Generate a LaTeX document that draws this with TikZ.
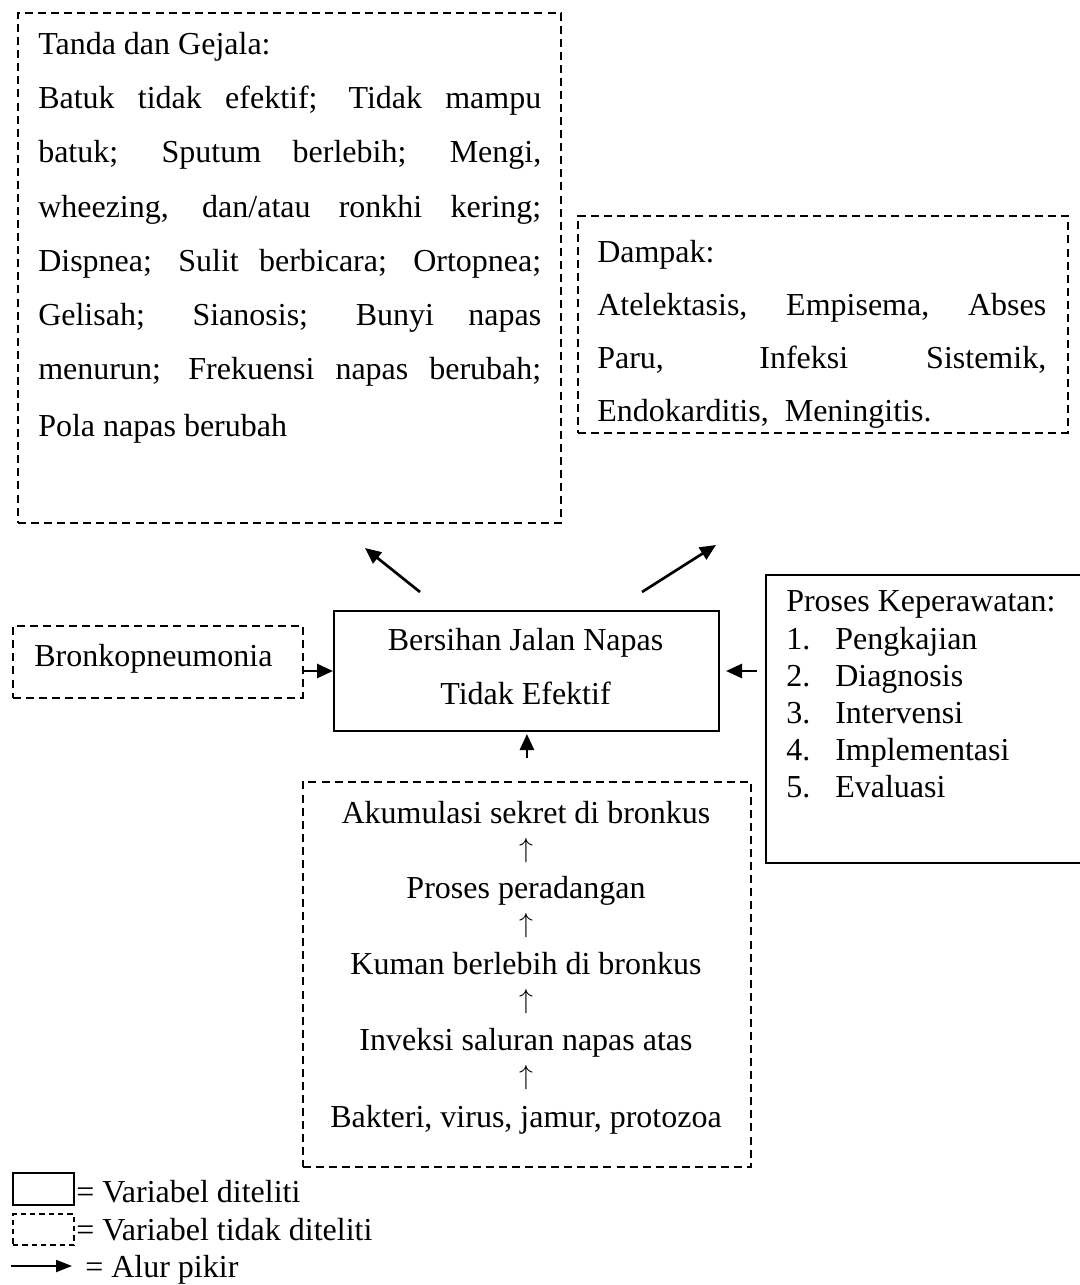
\documentclass[tikz,border=0pt]{standalone}
\usepackage{fontspec}
\setmainfont{Liberation Serif}
\usetikzlibrary{arrows.meta,calc}
\newlength\pxl \setlength\pxl{0.75pt}
\newcommand\jtanda[1]{\makebox[503\pxl][s]{#1}}
\newcommand\jdampak[1]{\makebox[449\pxl][s]{#1}}
\begin{document}
\begin{tikzpicture}[x=0.75pt,y=-0.75pt,
  txt/.style={inner sep=0pt, font=\fontsize{24pt}{28pt}\selectfont},
  uparr/.style={inner sep=0pt, font=\fontsize{21pt}{24pt}\selectfont},
  solidbox/.style={draw, line width=1.5pt, inner sep=0pt},
  dashbox/.style={draw, line width=1.4pt, dash pattern=on 6pt off 3.8pt, inner sep=0pt},
  arr/.style={line width=2pt, -{Triangle[length=12pt,width=10.5pt]}}]
\path[use as bounding box] (0,0) rectangle (1080,1285);

% Tanda dan Gejala
\node[dashbox, anchor=north west, minimum width=543\pxl, minimum height=510\pxl] (tanda) at (17,12) {};
\node[txt, anchor=base west] (t1) at (38,54) {Tanda dan Gejala:};
\node[txt, anchor=base west] (t2) at (38,108) {\jtanda{Batuk tidak efektif; Tidak mampu}};
\node[txt, anchor=base west] (t3) at (38,162) {\jtanda{batuk; Sputum berlebih; Mengi,}};
\node[txt, anchor=base west] (t4) at (38,217) {\jtanda{wheezing, dan/atau ronkhi kering;}};
\node[txt, anchor=base west] (t5) at (38,271) {\jtanda{Dispnea; Sulit berbicara; Ortopnea;}};
\node[txt, anchor=base west] (t6) at (38,325) {\jtanda{Gelisah; Sianosis; Bunyi napas}};
\node[txt, anchor=base west] (t7) at (38,379) {\jtanda{menurun; Frekuensi napas berubah;}};
\node[txt, anchor=base west] (t8) at (38,436) {Pola napas berubah};

% Dampak
\node[dashbox, anchor=north west, minimum width=490\pxl, minimum height=217\pxl] (dampak) at (577,215) {};
\node[txt, anchor=base west] (d1) at (597,262) {Dampak:};
\node[txt, anchor=base west] (d2) at (597,315) {\jdampak{Atelektasis, Empisema, Abses}};
\node[txt, anchor=base west] (d3) at (597,368) {\jdampak{Paru, Infeksi Sistemik,}};
\node[txt, anchor=base west] (d4) at (597,421) {Endokarditis,\ \ Meningitis.};

% Main box
\node[solidbox, anchor=north west, minimum width=385\pxl, minimum height=120\pxl] (main) at (333,610) {};
\node[txt, anchor=base] (m1) at (525.5,650) {Bersihan Jalan Napas};
\node[txt, anchor=base] (m2) at (525.5,704) {Tidak Efektif};

% Bronkopneumonia
\node[dashbox, anchor=north west, minimum width=290\pxl, minimum height=72\pxl] (bronko) at (12,625) {};
\node[txt, anchor=base west] (b1) at (34,666) {Bronkopneumonia};

% Proses Keperawatan
\node[solidbox, anchor=north west, minimum width=330\pxl, minimum height=288\pxl] (proses) at (765,574) {};
\node[txt, anchor=base west] (p0) at (786,611) {Proses Keperawatan:};
\node[txt, anchor=base west] (n1) at (786,649) {1.};
\node[txt, anchor=base west] (p1) at (835,649) {Pengkajian};
\node[txt, anchor=base west] (n2) at (786,686) {2.};
\node[txt, anchor=base west] (p2) at (835,686) {Diagnosis};
\node[txt, anchor=base west] (n3) at (786,723) {3.};
\node[txt, anchor=base west] (p3) at (835,723) {Intervensi};
\node[txt, anchor=base west] (n4) at (786,760) {4.};
\node[txt, anchor=base west] (p4) at (835,760) {Implementasi};
\node[txt, anchor=base west] (n5) at (786,797) {5.};
\node[txt, anchor=base west] (p5) at (835,797) {Evaluasi};

% Bottom chain
\node[dashbox, anchor=north west, minimum width=448\pxl, minimum height=385\pxl] (chain) at (302,781) {};
\node[txt, anchor=base] (c1) at (526,823) {Akumulasi sekret di bronkus};
\node[uparr] (u1) at (526,851) {$\uparrow$};
\node[txt, anchor=base] (c2) at (526,898) {Proses peradangan};
\node[uparr] (u2) at (526,926) {$\uparrow$};
\node[txt, anchor=base] (c3) at (526,974) {Kuman berlebih di bronkus};
\node[uparr] (u3) at (526,1002) {$\uparrow$};
\node[txt, anchor=base] (c4) at (526,1050) {Inveksi saluran napas atas};
\node[uparr] (u4) at (526,1078) {$\uparrow$};
\node[txt, anchor=base] (c5) at (526,1127) {Bakteri, virus, jamur, protozoa};

% Connectors
\coordinate (tlstart) at (420,592);
\coordinate (tlend) at (365,548);
\coordinate (trstart) at (642,592);
\coordinate (trend) at (716,545);
\draw[arr] (tlstart) -- (tlend);
\draw[arr] (trstart) -- (trend);
\draw[arr] (bronko.east |- main.west) -- (main.west);
\draw[arr, shorten <=6pt, shorten >=4.5pt] (proses.west |- main.east) -- (main.east);
\draw[arr, shorten <=17pt, shorten >=1.5pt] (chain.north) -- (chain.north |- main.south);

% Legend
\node[solidbox, anchor=north west, minimum width=61\pxl, minimum height=32\pxl] (lg1) at (12,1172) {};
\node[txt, anchor=base west] (lt1) at (76,1202) {= Variabel diteliti};
\node[dashbox, dash pattern=on 4pt off 3pt, anchor=north west, minimum width=61\pxl, minimum height=31\pxl] (lg2) at (12,1213) {};
\node[txt, anchor=base west] (lt2) at (76,1240) {= Variabel tidak diteliti};
\coordinate (la) at (11,1266);
\coordinate (lb) at (72,1266);
\draw[arr, line width=1.6pt, -{Triangle[length=12pt,width=9pt]}] (la) -- (lb);
\node[txt, anchor=base west] (lt3) at (85,1277) {= Alur pikir};
\end{tikzpicture}
\end{document}
